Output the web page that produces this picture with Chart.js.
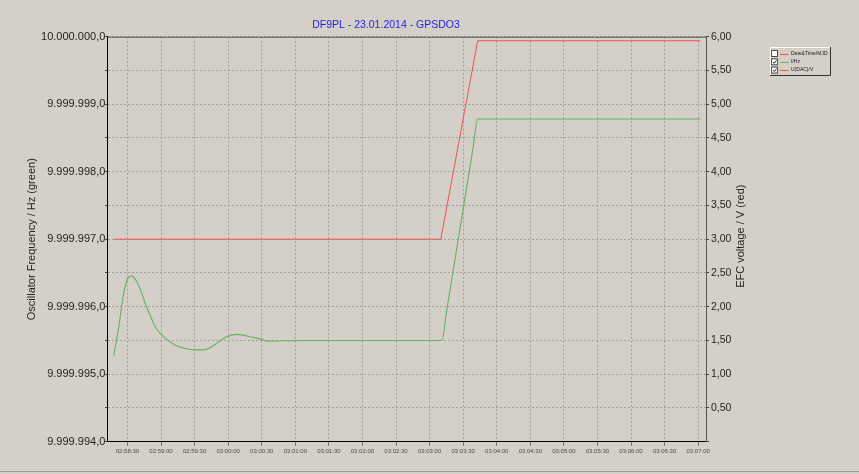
<!DOCTYPE html>
<html>
<head>
<meta charset="utf-8">
<script src="https://cdn.jsdelivr.net/npm/chart.js@4.4.0/dist/chart.umd.min.js"></script>
<style>
html, body { margin: 0; padding: 0; background: #d4d0c8; }
canvas { display: block; }
</style>
</head>
<body>
<canvas id="gpsdo_chart" width="859" height="474"></canvas>
<script>

// oscillator frequency (green)
var freq_times = ['02:58:17.8', '02:58:22.2', '02:58:26.7', '02:58:29.7', '02:58:31.5', '02:58:33.3',
                  '02:58:35.4', '02:58:38.7', '02:58:42.1', '02:58:46.1', '02:58:50.6', '02:58:55',
                  '02:59:04', '02:59:13', '02:59:24.5', '02:59:36.8', '02:59:41', '02:59:50',
                  '02:59:58', '03:00:07', '03:00:16', '03:00:29', '03:00:35', '03:01:05',
                  '03:02:10', '03:03:11', '03:03:15', '03:03:39', '03:03:43', '03:07:02'];
var freq_values = [9999995.28, 9999995.70, 9999996.20, 9999996.40, 9999996.44, 9999996.46,
                   9999996.44, 9999996.36, 9999996.23, 9999996.04, 9999995.86, 9999995.70,
                   9999995.53, 9999995.43, 9999995.37, 9999995.36, 9999995.37, 9999995.46,
                   9999995.55, 9999995.59, 9999995.57, 9999995.52, 9999995.49, 9999995.50,
                   9999995.50, 9999995.50, 9999995.91, 9999998.37, 9999998.78, 9999998.78];

// EFC voltage (red)
var volt_times = ['02:58:18', '03:03:10', '03:03:43', '03:07:02'];
var volt_values = [3.00, 3.00, 5.94, 5.94];

var time_ticks = ['02:58:30', '02:59:00', '02:59:30', '03:00:00', '03:00:30', '03:01:00',
                  '03:01:30', '03:02:00', '03:02:30', '03:03:00', '03:03:30', '03:04:00',
                  '03:04:30', '03:05:00', '03:05:30', '03:06:00', '03:06:30', '03:07:00'];

var legend_labels = ['Date&Time/MJD', 'f/Hz', 'U(DAC)/V'];
var legend_checked = [false, true, true];

var GREEN = 'rgb(98,178,98)';
var RED = 'rgb(240,82,82)';
var BG = '#d4d0c8';

function to_sec(s) {
    var p = s.split(':');
    return Number(p[0]) * 3600 + Number(p[1]) * 60 + Number(p[2]);
}

function fmt_time(v) {
    var h = Math.floor(v / 3600), m = Math.floor((v % 3600) / 60), s = Math.round(v % 60);
    var pad = function (n) { return (n < 10 ? '0' : '') + n; };
    return pad(h) + ':' + pad(m) + ':' + pad(s);
}

function fmt_hz(v) {
    var r = Math.round(v);
    if (Math.abs(v - r) > 0.01) return '';
    return String(r).replace(/\B(?=(\d{3})+(?!\d))/g, '.') + ',0';
}

function pairs(times, values) {
    var out = [];
    for (var i = 0; i < times.length; i++) {
        out.push({x: to_sec(times[i]), y: values[i]});
    }
    return out;
}

var frame_plugin = {
    id: 'frame',
    beforeDraw: function (chart) {
        var ctx = chart.ctx;
        ctx.save();
        ctx.fillStyle = BG;
        ctx.fillRect(0, 0, chart.width, chart.height);
        ctx.restore();
    },
    afterDraw: function (chart) {
        var ctx = chart.ctx, a = chart.chartArea;
        ctx.save();

        // top frame line
        ctx.strokeStyle = '#555555';
        ctx.lineWidth = 1;
        ctx.beginPath();
        ctx.moveTo(a.left, a.top + 0.5);
        ctx.lineTo(a.right, a.top + 0.5);
        ctx.stroke();

        // window edge at the bottom
        ctx.strokeStyle = '#a09c96';
        ctx.beginPath();
        ctx.moveTo(0, 471.5);
        ctx.lineTo(chart.width, 471.5);
        ctx.stroke();

        // title
        ctx.fillStyle = 'rgb(30,30,235)';
        ctx.font = '10.5px "Liberation Sans", Arial, sans-serif';
        ctx.textAlign = 'center';
        ctx.textBaseline = 'middle';
        ctx.fillText('DF9PL - 23.01.2014 - GPSDO3', 386, 25);

        // axis titles
        var cy = (a.top + a.bottom) / 2;
        ctx.fillStyle = '#1e1e1e';
        ctx.font = '11px "Liberation Sans", Arial, sans-serif';
        ctx.save();
        ctx.translate(32, cy);
        ctx.rotate(-Math.PI / 2);
        ctx.fillText('Oscillator Frequency / Hz (green)', 0, 0);
        ctx.restore();
        ctx.save();
        ctx.translate(741, cy - 3);
        ctx.rotate(-Math.PI / 2);
        ctx.fillText('EFC voltage / V (red)', 0, 0);
        ctx.restore();

        // legend box
        var lx = 770, ly = 47, lw = 60, lh = 28;
        ctx.strokeStyle = '#ffffff';
        ctx.beginPath();
        ctx.moveTo(lx + 0.5, ly + lh);
        ctx.lineTo(lx + 0.5, ly + 0.5);
        ctx.lineTo(lx + lw, ly + 0.5);
        ctx.stroke();
        ctx.strokeStyle = '#303030';
        ctx.beginPath();
        ctx.moveTo(lx + lw + 0.5, ly);
        ctx.lineTo(lx + lw + 0.5, ly + lh + 0.5);
        ctx.lineTo(lx, ly + lh + 0.5);
        ctx.stroke();

        var colors = [RED, GREEN, RED];
        ctx.font = '5px "Liberation Sans", Arial, sans-serif';
        ctx.textAlign = 'left';
        for (var i = 0; i < legend_labels.length; i++) {
            var ry = 53.5 + i * 8.3;
            ctx.fillStyle = '#ffffff';
            ctx.fillRect(772, ry - 2.5, 5, 5);
            ctx.strokeStyle = '#505050';
            ctx.strokeRect(771.5, ry - 3, 6, 6);
            if (legend_checked[i]) {
                ctx.strokeStyle = '#202020';
                ctx.beginPath();
                ctx.moveTo(773, ry);
                ctx.lineTo(774.3, ry + 1.5);
                ctx.lineTo(776.5, ry - 1.5);
                ctx.stroke();
            }
            ctx.strokeStyle = colors[i];
            ctx.beginPath();
            ctx.moveTo(780, Math.round(ry) + 0.5);
            ctx.lineTo(788.5, Math.round(ry) + 0.5);
            ctx.stroke();
            ctx.fillStyle = '#202020';
            ctx.fillText(legend_labels[i], 791, ry);
        }
        ctx.restore();
    }
};

var tick_font = {family: '"Liberation Sans", Arial, sans-serif', size: 11};

new Chart(document.getElementById('gpsdo_chart').getContext('2d'), {
    type: 'line',
    data: {
        datasets: [{
            label: 'U(DAC)/V',
            data: pairs(volt_times, volt_values),
            yAxisID: 'y1',
            borderColor: RED,
            borderWidth: 1,
            pointRadius: 0,
            tension: 0
        }, {
            label: 'f/Hz',
            data: pairs(freq_times, freq_values),
            yAxisID: 'y',
            borderColor: GREEN,
            borderWidth: 1.1,
            pointRadius: 0,
            cubicInterpolationMode: 'monotone'
        }]
    },
    options: {
        responsive: false,
        animation: false,
        devicePixelRatio: 1,
        layout: {padding: {top: 36.7, left: 0, right: 0, bottom: 0}},
        plugins: {
            legend: {display: false},
            title: {display: false},
            tooltip: {enabled: false}
        },
        scales: {
            x: {
                type: 'linear',
                min: to_sec('02:58:12'),
                max: to_sec('03:07:07'),
                afterBuildTicks: function (scale) {
                    scale.ticks = time_ticks.map(function (t) { return {value: to_sec(t)}; });
                },
                afterFit: function (scale) { scale.height = 32.3; },
                ticks: {
                    autoSkip: false,
                    maxRotation: 0,
                    padding: 2,
                    color: '#4a4a4a',
                    font: {family: '"Liberation Sans", Arial, sans-serif', size: 6},
                    callback: function (v) { return fmt_time(v); }
                },
                grid: {
                    color: '#a29e98',
                    tickColor: '#707070',
                    tickLength: 4
                },
                border: {color: '#000000', width: 1, dash: [2, 2]}
            },
            y: {
                position: 'left',
                min: 9999994,
                max: 10000000,
                afterFit: function (scale) { scale.width = 107.3; },
                ticks: {
                    stepSize: 0.5,
                    autoSkip: false,
                    padding: 0,
                    color: '#1e1e1e',
                    font: tick_font,
                    callback: function (v) { return fmt_hz(v); }
                },
                grid: {
                    color: '#a29e98',
                    tickColor: '#303030',
                    tickLength: 2
                },
                border: {color: '#000000', width: 1, dash: [2, 2]}
            },
            y1: {
                position: 'right',
                min: 0,
                max: 6,
                afterFit: function (scale) { scale.width = 153; },
                ticks: {
                    stepSize: 0.5,
                    autoSkip: false,
                    padding: 2,
                    color: '#1e1e1e',
                    font: {family: '"Liberation Sans", Arial, sans-serif', size: 10.5},
                    callback: function (v) { return v === 0 ? '' : v.toFixed(2).replace('.', ','); }
                },
                grid: {
                    drawOnChartArea: false,
                    tickColor: '#404040',
                    tickLength: 3
                },
                border: {color: '#555555', width: 1}
            }
        }
    },
    plugins: [frame_plugin]
});
</script>
</body>
</html>
